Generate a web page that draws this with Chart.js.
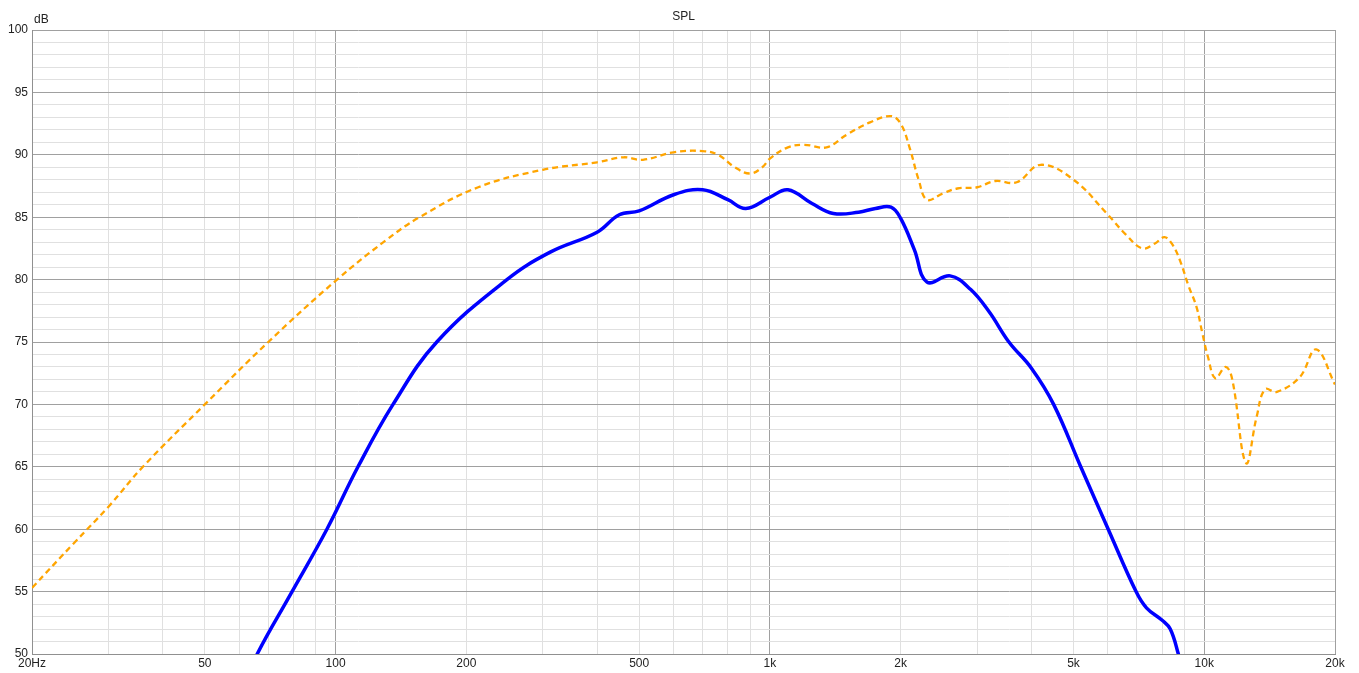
<!DOCTYPE html>
<html lang="en">
<head>
  <meta charset="UTF-8">
  <title>SPL</title>
  <script src="https://cdn.jsdelivr.net/npm/chart.js"></script>
  <style>
    body { margin: 0; background: #fff; }
    #wrap { width: 1359px; height: 673px; }
  </style>
</head>
<body>
<div id="wrap"><canvas id="grafico" width="1359" height="673"></canvas></div>

<script>
  // curva naranja (discontinua)
  const freqNaranja = [20, 25, 30, 36, 50, 70, 100, 130, 156, 213, 300, 400, 460, 510, 600, 700, 760, 830, 900, 960,
    1000, 1100, 1200, 1350, 1500, 1700, 1900, 2000, 2100, 2200, 2300, 2500, 2700, 3000, 3300, 3700, 4200, 5000,
    6000, 6600, 7200, 7700, 8100, 8450, 8800, 9200, 9600, 9900, 10200, 10600, 11200, 11600, 12480, 13200, 13800,
    14700, 16600, 18100, 20000];
  const splNaranja = [55.3, 58.9, 61.8, 65.0, 70.0, 75.0, 79.9, 83.1, 85.0, 87.4, 88.8, 89.4, 89.8, 89.6, 90.2, 90.3, 90.0, 89.0, 88.5, 89.0,
    89.7, 90.6, 90.8, 90.6, 91.6, 92.6, 93.1, 92.5, 90.5, 88.0, 86.4, 86.9, 87.3, 87.4, 87.9, 87.8, 89.2, 88.0,
    85.2, 83.6, 82.5, 82.9, 83.4, 82.8, 81.5, 79.5, 77.8, 75.7, 73.8, 72.1, 73.0, 72.0, 65.3, 69.0, 71.2,
    71.0, 72.2, 74.4, 71.6];

  // curva azul (continua)
  const freqAzul = [60, 66, 78.5, 95.5, 112.6, 135.6, 171, 248, 312, 400, 450, 500, 600, 700, 800, 880, 1000, 1100,
    1250, 1400, 1600, 1750, 1900, 2000, 2150, 2300, 2600, 2900, 3200, 3550, 4000, 4500, 5195, 6010,
    6966, 7360, 8000, 8350, 8700, 9000];
  const splAzul = [46.7, 50.0, 54.7, 60.0, 65.0, 70.0, 75.0, 80.0, 82.2, 83.8, 85.2, 85.5, 86.8, 87.2, 86.4, 85.7, 86.6, 87.2,
    86.1, 85.3, 85.4, 85.7, 85.8, 84.9, 82.4, 79.8, 80.3, 79.2, 77.4, 75.0, 72.9, 70.0, 65.0, 60.0,
    55.0, 53.7, 52.7, 52.0, 50.1, 48.0];

  const etiquetasX = { 20: "20Hz", 50: "50", 100: "100", 200: "200", 500: "500", 1000: "1k", 2000: "2k", 5000: "5k", 10000: "10k", 20000: "20k" };
  const lineasX = [];
  [10, 100, 1000, 10000].forEach(d => {
    for (let m = 1; m <= 9; m++) {
      const v = d * m;
      if (v >= 20 && v <= 20000) lineasX.push(v);
    }
  });
  const mayoresX = [20, 100, 1000, 10000, 20000];

  const aPuntos = (xs, ys) => xs.map((x, i) => ({ x: x, y: ys[i] }));

  const colorMayor = "#a0a0a0";
  const colorMenor = "#e0e0e0";
  const fuente = { family: "Liberation Sans, Arial, sans-serif", size: 12 };

  const textos = {
    id: "textos",
    afterDraw(chart) {
      const ctx = chart.ctx;
      const area = chart.chartArea;
      ctx.save();
      ctx.fillStyle = "#222";
      ctx.font = "12px Liberation Sans, Arial, sans-serif";
      ctx.textBaseline = "middle";
      ctx.textAlign = "center";
      ctx.fillText("SPL", (area.left + area.right) / 2, 17);
      ctx.textAlign = "left";
      ctx.fillText("dB", area.left + 2, 20);
      ctx.restore();
    }
  };

  new Chart(document.getElementById("grafico"), {
    type: "line",
    data: {
      datasets: [
        {
          label: "Naranja",
          data: aPuntos(freqNaranja, splNaranja),
          borderColor: "#ffa500",
          borderWidth: 2.3,
          borderDash: [6, 4],
          pointRadius: 0,
          tension: 0.4,
          fill: false
        },
        {
          label: "Azul",
          data: aPuntos(freqAzul, splAzul),
          borderColor: "#0000ff",
          borderWidth: 3.5,
          pointRadius: 0,
          tension: 0.4,
          fill: false
        }
      ]
    },
    options: {
      responsive: false,
      animation: false,
      layout: { padding: { top: 30, right: 24, left: 0, bottom: 0 } },
      plugins: {
        legend: { display: false },
        title: { display: false },
        tooltip: { enabled: false }
      },
      scales: {
        x: {
          type: "logarithmic",
          min: 20,
          max: 20000,
          afterBuildTicks(scale) {
            scale.ticks = lineasX.map(v => ({ value: v }));
          },
          afterFit(scale) { scale.height = 19; },
          ticks: {
            autoSkip: false,
            maxRotation: 0,
            minRotation: 0,
            padding: 2,
            color: "#222",
            font: fuente,
            callback: v => etiquetasX[v] || ""
          },
          grid: {
            drawTicks: false,
            color: c => (c.tick && mayoresX.includes(c.tick.value)) ? colorMayor : colorMenor,
            lineWidth: 1
          },
          border: { color: "#909090" }
        },
        y: {
          min: 50,
          max: 100,
          afterFit(scale) { scale.width = 32; },
          ticks: {
            stepSize: 1,
            autoSkip: false,
            padding: 4,
            color: "#222",
            font: fuente,
            callback: v => (v % 5 === 0 ? String(v) : "")
          },
          grid: {
            drawTicks: false,
            color: c => (c.tick && c.tick.value % 5 === 0) ? colorMayor : colorMenor,
            lineWidth: 1
          },
          border: { color: "#909090" }
        }
      }
    },
    plugins: [textos]
  });
</script>
</body>
</html>
